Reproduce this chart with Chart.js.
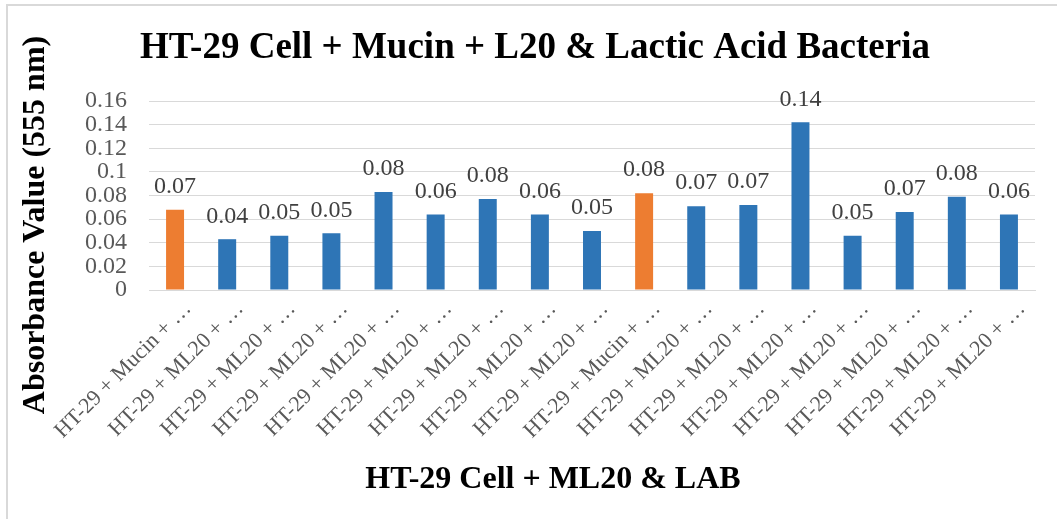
<!DOCTYPE html>
<html>
<head>
<meta charset="utf-8">
<script src="https://cdn.jsdelivr.net/npm/chart.js@4.4.1/dist/chart.umd.min.js"></script>
<style>
  html, body { margin: 0; padding: 0; background: #fff; width: 1057px; height: 519px; overflow: hidden; }
  #frame { position: absolute; left: 6px; top: 4px; width: 1060px; height: 530px; border: 2px solid #d9d9d9; box-sizing: border-box; }
  #wrap { position: absolute; left: 7px; top: 5px; width: 1050px; height: 514px; }
</style>
</head>
<body>
<div id="frame"></div>
<div id="wrap"><canvas id="c" width="1050" height="514"></canvas></div>
<script>
const categories = [
  "HT-29 + Mucin + …", "HT-29 + ML20 + …", "HT-29 + ML20 + …", "HT-29 + ML20 + …",
  "HT-29 + ML20 + …", "HT-29 + ML20 + …", "HT-29 + ML20 + …", "HT-29 + ML20 + …",
  "HT-29 + ML20 + …", "HT-29 + Mucin + …", "HT-29 + ML20 + …", "HT-29 + ML20 + …",
  "HT-29 + ML20 + …", "HT-29 + ML20 + …", "HT-29 + ML20 + …", "HT-29 + ML20 + …",
  "HT-29 + ML20 + …"
];
const absorbance = [0.068, 0.043, 0.046, 0.048, 0.083, 0.064, 0.077, 0.064, 0.050, 0.082, 0.071, 0.072, 0.142, 0.046, 0.066, 0.079, 0.064];
const isControl = [true, false, false, false, false, false, false, false, false, true, false, false, false, false, false, false, false];
const yTicks = [0, 0.02, 0.04, 0.06, 0.08, 0.1, 0.12, 0.14, 0.16];
const chartTitle = "HT-29 Cell + Mucin + L20 & Lactic Acid Bacteria";
const xTitle = "HT-29 Cell + ML20 & LAB";
const yTitle = "Absorbance Value (555 nm)";

const BLUE = "#2E75B6", ORANGE = "#ED7D31";
const SERIF = "'Liberation Serif', 'Times New Roman', serif";

const textPlugin = {
  id: 'texts',
  afterDatasetsDraw(chart) {
    const ctx = chart.ctx;
    const meta = chart.getDatasetMeta(0);
    ctx.save();
    ctx.fillStyle = '#404040';
    ctx.font = '24px ' + SERIF;
    ctx.textAlign = 'center';
    ctx.textBaseline = 'middle';
    meta.data.forEach((bar, i) => {
      ctx.fillText(absorbance[i].toFixed(2), bar.x, bar.y - 23);
    });
    ctx.restore();
  },
  afterDraw(chart) {
    const ctx = chart.ctx;
    ctx.save();
    ctx.fillStyle = '#000';
    ctx.textAlign = 'center';
    ctx.textBaseline = 'middle';
    ctx.font = 'bold 37px ' + SERIF;
    ctx.fillText(chartTitle, 528, 43);
    ctx.font = 'bold 32px ' + SERIF;
    ctx.fillText(xTitle, 546, 475);
    ctx.translate(29, 220);
    ctx.rotate(-Math.PI / 2);
    ctx.fillText(yTitle, 0, 0);
    ctx.restore();
  }
};

new Chart(document.getElementById('c'), {
  type: 'bar',
  data: {
    labels: categories,
    datasets: [{
      data: absorbance,
      backgroundColor: isControl.map(c => c ? ORANGE : BLUE),
      borderWidth: 0,
      categoryPercentage: 1.0,
      barPercentage: 0.345
    }]
  },
  options: {
    responsive: false,
    animation: false,
    layout: { padding: { left: 0, top: 96, right: 22, bottom: 0 } },
    plugins: {
      legend: { display: false },
      title: { display: false },
      tooltip: { enabled: false }
    },
    scales: {
      x: {
        grid: { display: false, drawTicks: false },
        border: { display: true, color: '#d9d9d9', width: 1 },
        ticks: {
          color: '#595959',
          font: { family: SERIF, size: 22 },
          minRotation: 45, maxRotation: 45,
          autoSkip: false,
          labelOffset: 13,
          padding: 6
        },
        afterFit(scale) { scale.height = 514 - 285; }
      },
      y: {
        min: 0, max: 0.16,
        afterBuildTicks(scale) { scale.ticks = yTicks.map(v => ({ value: v })); },
        grid: { color: '#d9d9d9', lineWidth: 1, drawTicks: false },
        border: { display: false },
        ticks: {
          color: '#595959',
          font: { family: SERIF, size: 24 },
          autoSkip: false,
          padding: 22,
          callback: v => String(Number(v.toFixed(2)))
        },
        afterFit(scale) { scale.width = 142; }
      }
    }
  },
  plugins: [textPlugin]
});
</script>
</body>
</html>
